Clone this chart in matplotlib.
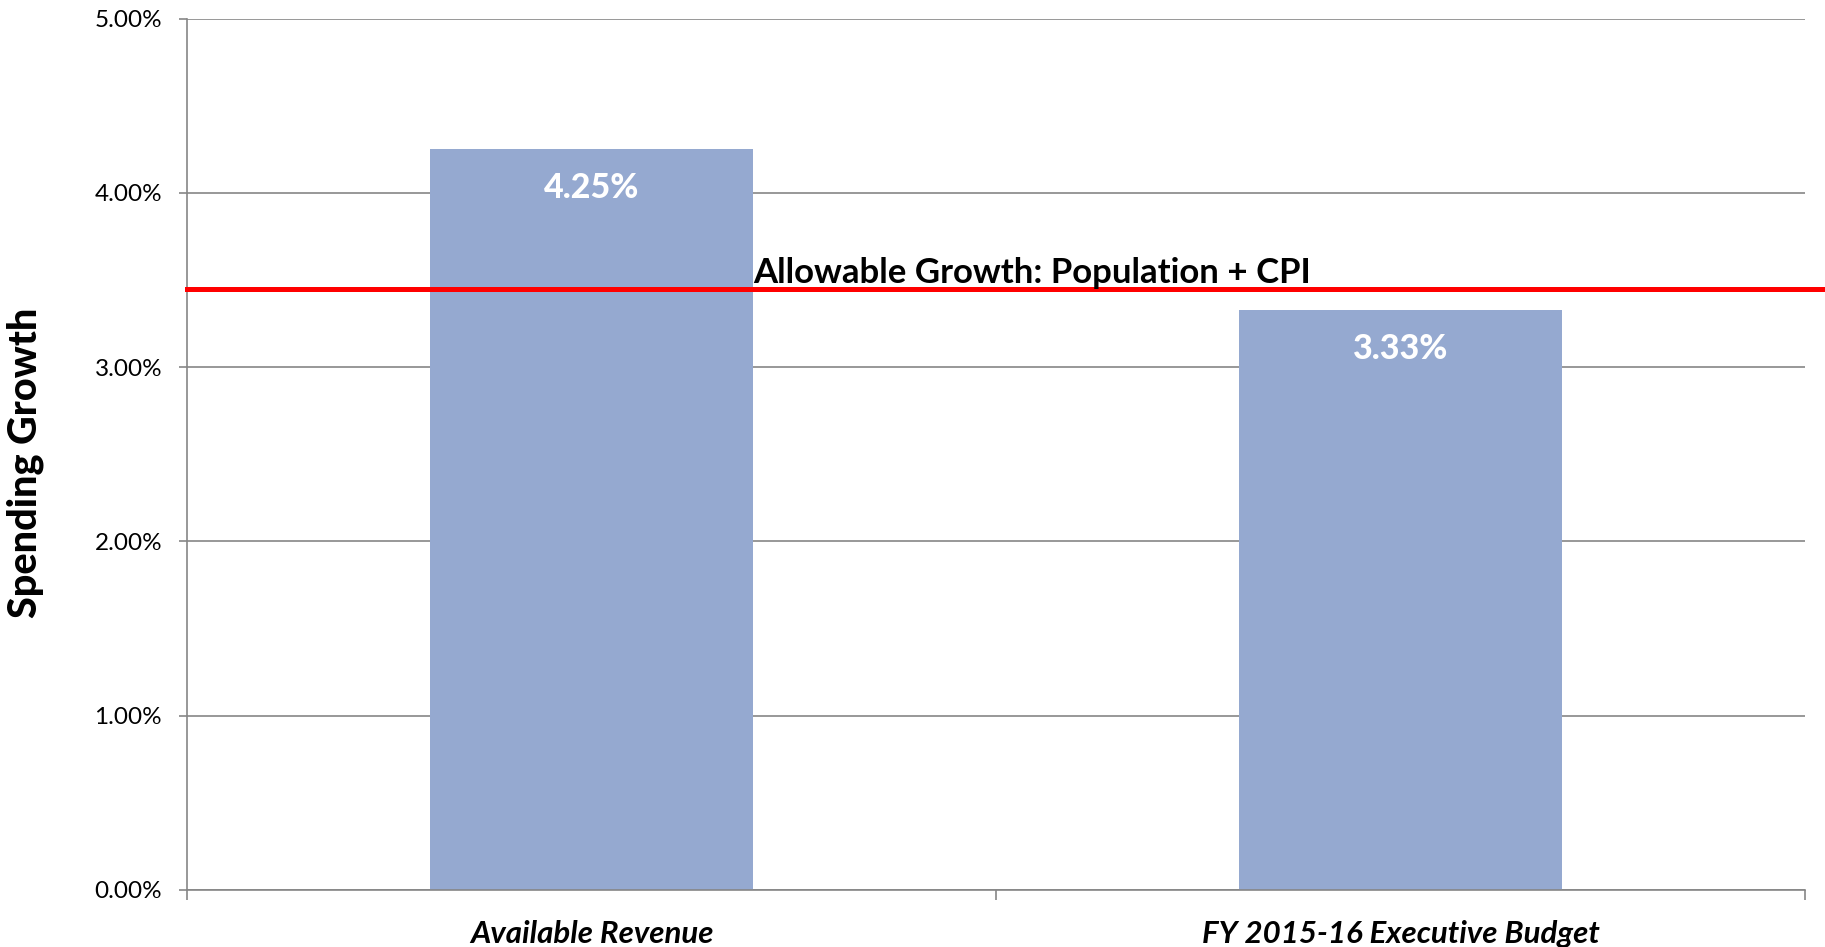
import matplotlib.pyplot as plt
from matplotlib.ticker import FuncFormatter

plt.rcParams["font.family"] = ["Lato", "DejaVu Sans"]

categories = ["Available Revenue", "FY 2015-16 Executive Budget"]
growth = [4.25, 3.33]
value_labels = ["4.25%", "3.33%"]
allowable_growth = 3.45
allowable_label = "Allowable Growth: Population + CPI"
y_ticks = [0, 1, 2, 3, 4, 5]

BAR_COLOR = "#95A9D0"
GRID_COLOR = "#868686"


def main() -> None:
    fig = plt.figure(figsize=(18.25, 9.47), dpi=100)
    ax = fig.add_axes([0.1025, 0.0602, 0.8865, 0.9201])

    positions = [i + 0.5 for i in range(len(categories))]
    bar_width = 0.4
    ax.bar(positions, growth, width=bar_width, color=BAR_COLOR, zorder=2)

    for x, value, label in zip(positions, growth, value_labels):
        ax.annotate(
            label,
            xy=(x, value),
            xytext=(0, -28),
            textcoords="offset points",
            ha="center",
            va="center",
            color="white",
            fontsize=24.5,
            fontweight="black",
            zorder=3,
        )

    # red reference line runs past the plot area to the figure edge
    ax.axhline(allowable_growth, xmin=0, xmax=1.0125, color="#FF0000", linewidth=3.6, clip_on=False, zorder=4)
    ax.annotate(
        allowable_label,
        xy=(positions[0] + bar_width / 2, allowable_growth),
        xytext=(0, 4),
        textcoords="offset points",
        ha="left",
        va="baseline",
        fontsize=25,
        fontweight="bold",
        color="black",
        zorder=5,
    )

    ax.set_xlim(0, len(categories))
    ax.set_ylim(0, 5)
    ax.set_yticks(y_ticks)
    ax.yaxis.set_major_formatter(FuncFormatter(lambda v, _: f"{v:.2f}%"))
    ax.tick_params(axis="y", labelsize=17.5, length=6, width=1.2, color=GRID_COLOR, pad=12)

    ax.set_xticks(positions)
    ax.set_xticklabels(categories, fontsize=22.5, fontweight="bold", fontstyle="italic")
    ax.set_xticks(range(len(categories) + 1), minor=True)
    ax.tick_params(axis="x", which="major", length=0, pad=21.5)
    ax.tick_params(axis="x", which="minor", length=7.5, width=1.2, color=GRID_COLOR)

    ax.set_ylabel("Spending Growth", fontsize=28.5, fontweight="black", labelpad=36)
    ax.yaxis.label.set_y(0.49)

    ax.grid(axis="y", color=GRID_COLOR, linewidth=1.2, zorder=0)
    ax.set_axisbelow(True)
    for side in ("top", "right"):
        ax.spines[side].set_visible(False)
    for side in ("left", "bottom"):
        ax.spines[side].set_color(GRID_COLOR)
        ax.spines[side].set_linewidth(1.2)

    fig.savefig("out.png", dpi=100)
    plt.close(fig)


if __name__ == "__main__":
    main()
